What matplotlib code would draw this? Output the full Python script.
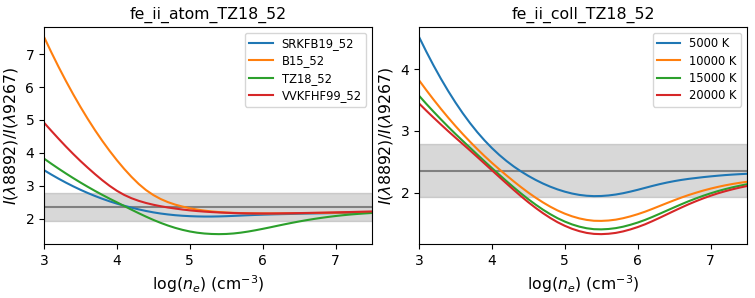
import matplotlib
matplotlib.use("Agg")
import matplotlib.pyplot as plt
from matplotlib.ticker import MultipleLocator

# density grid, log(n_e) in cm^-3 (3.0 ... 7.5 in 0.1 steps)
log_ne = [3.0, 3.1, 3.2, 3.3, 3.4, 3.5, 3.6, 3.7, 3.8, 3.9,
          4.0, 4.1, 4.2, 4.3, 4.4, 4.5, 4.6, 4.7, 4.8, 4.9,
          5.0, 5.1, 5.2, 5.3, 5.4, 5.5, 5.6, 5.7, 5.8, 5.9,
          6.0, 6.1, 6.2, 6.3, 6.4, 6.5, 6.6, 6.7, 6.8, 6.9,
          7.0, 7.1, 7.2, 7.3, 7.4, 7.5]

# left panel: atomic data sets
atom_labels = ["SRKFB19_52", "B15_52", "TZ18_52", "VVKFHF99_52"]
srkfb19 = [3.48, 3.347, 3.221, 3.102, 2.99, 2.885, 2.787, 2.696, 2.612, 2.535,
           2.465, 2.401, 2.343, 2.29, 2.242, 2.20, 2.165, 2.137, 2.114, 2.097,
           2.085, 2.077, 2.073, 2.073, 2.077, 2.084, 2.093, 2.103, 2.113, 2.122,
           2.13, 2.137, 2.143, 2.148, 2.153, 2.158, 2.163, 2.168, 2.172, 2.176,
           2.18, 2.184, 2.188, 2.192, 2.196, 2.20]
b15 = [7.52, 7.055, 6.61, 6.186, 5.782, 5.398, 5.034, 4.69, 4.367, 4.064,
       3.781, 3.518, 3.277, 3.06, 2.875, 2.725, 2.605, 2.51, 2.435, 2.375,
       2.325, 2.285, 2.253, 2.228, 2.209, 2.195, 2.185, 2.178, 2.173, 2.17,
       2.168, 2.168, 2.169, 2.171, 2.173, 2.175, 2.178, 2.181, 2.184, 2.187,
       2.19, 2.194, 2.198, 2.202, 2.206, 2.21]
tz18 = [3.83, 3.675, 3.525, 3.38, 3.24, 3.105, 2.975, 2.85, 2.73, 2.615,
        2.505, 2.393, 2.282, 2.174, 2.07, 1.972, 1.882, 1.801, 1.73, 1.67,
        1.621, 1.584, 1.559, 1.545, 1.54, 1.545, 1.56, 1.585, 1.618, 1.657,
        1.70, 1.745, 1.792, 1.838, 1.882, 1.924, 1.963, 1.999, 2.032, 2.062,
        2.089, 2.113, 2.134, 2.152, 2.168, 2.182]
vvkfhf99 = [4.92, 4.673, 4.432, 4.197, 3.972, 3.757, 3.554, 3.359, 3.174, 3.004,
            2.854, 2.729, 2.629, 2.549, 2.484, 2.431, 2.386, 2.348, 2.316, 2.286,
            2.261, 2.24, 2.223, 2.209, 2.197, 2.187, 2.179, 2.173, 2.169, 2.167,
            2.166, 2.166, 2.168, 2.171, 2.174, 2.178, 2.182, 2.186, 2.19, 2.195,
            2.20, 2.205, 2.21, 2.216, 2.222, 2.228]

# right panel: temperatures
temp_labels = ["5000 K", "10000 K", "15000 K", "20000 K"]
t5000 = [4.52, 4.282, 4.057, 3.845, 3.646, 3.46, 3.287, 3.127, 2.98, 2.846,
         2.724, 2.614, 2.515, 2.426, 2.346, 2.274, 2.209, 2.151, 2.10, 2.056,
         2.019, 1.989, 1.967, 1.953, 1.947, 1.949, 1.958, 1.973, 1.994, 2.02,
         2.049, 2.08, 2.111, 2.14, 2.166, 2.189, 2.209, 2.226, 2.24, 2.254,
         2.266, 2.277, 2.287, 2.295, 2.302, 2.308]
t10000 = [3.82, 3.66, 3.506, 3.358, 3.216, 3.08, 2.95, 2.826, 2.707, 2.593,
          2.485, 2.382, 2.282, 2.185, 2.092, 2.004, 1.922, 1.846, 1.777, 1.716,
          1.664, 1.621, 1.587, 1.563, 1.549, 1.547, 1.553, 1.567, 1.59, 1.62,
          1.655, 1.695, 1.74, 1.787, 1.834, 1.88, 1.924, 1.965, 2.002, 2.037,
          2.068, 2.096, 2.121, 2.143, 2.162, 2.179]
t15000 = [3.57, 3.438, 3.311, 3.188, 3.068, 2.952, 2.84, 2.729, 2.618, 2.508,
          2.40, 2.294, 2.19, 2.088, 1.99, 1.897, 1.81, 1.729, 1.656, 1.591,
          1.536, 1.49, 1.454, 1.428, 1.413, 1.41, 1.416, 1.43, 1.453, 1.484,
          1.52, 1.562, 1.61, 1.661, 1.713, 1.765, 1.816, 1.865, 1.91, 1.953,
          1.992, 2.028, 2.06, 2.089, 2.115, 2.139]
t20000 = [3.445, 3.328, 3.215, 3.105, 2.997, 2.892, 2.789, 2.685, 2.579, 2.472,
          2.365, 2.258, 2.152, 2.047, 1.945, 1.848, 1.757, 1.672, 1.595, 1.526,
          1.468, 1.419, 1.381, 1.353, 1.337, 1.333, 1.339, 1.353, 1.377, 1.409,
          1.447, 1.491, 1.542, 1.596, 1.652, 1.708, 1.763, 1.816, 1.865, 1.911,
          1.953, 1.992, 2.026, 2.057, 2.085, 2.11]

# observed ratio and its range
obs_ratio = 2.36
obs_low = 1.93
obs_high = 2.79

titles = ["fe_ii_atom_TZ18_52", "fe_ii_coll_TZ18_52"]
colors = ["#1f77b4", "#ff7f0e", "#2ca02c", "#d62728"]

fig = plt.figure(figsize=(7.55, 2.98), dpi=100)
ax1 = fig.add_axes([44 / 755, 1 - 244 / 298, 328 / 755, 217 / 298])
ax2 = fig.add_axes([419 / 755, 1 - 244 / 298, 328 / 755, 217 / 298])

panels = [
    (ax1, [srkfb19, b15, tz18, vvkfhf99], atom_labels),
    (ax2, [t5000, t10000, t15000, t20000], temp_labels),
]

for (ax, series, labels), title in zip(panels, titles):
    ax.axhspan(obs_low, obs_high, color="grey", alpha=0.3)
    ax.axhline(obs_ratio, color="grey", lw=1.5)
    for ys, lab, c in zip(series, labels, colors):
        ax.plot(log_ne, ys, color=c, lw=1.5, label=lab)
    ax.set_xlim(3, 7.5)
    ax.xaxis.set_major_locator(MultipleLocator(1))
    ax.yaxis.set_major_locator(MultipleLocator(1))
    ax.tick_params(labelsize=10)
    ax.set_title(title, fontsize=11.3)
    ax.set_xlabel(r"$\log(n_e)$ (cm$^{-3}$)", fontsize=11.3)
    ax.set_ylabel(r"$I(\lambda8892)/I(\lambda9267)$", fontsize=11.3)
    ax.legend(loc="upper right", fontsize=8.3, labelspacing=0.38,
              borderpad=0.38)

fig.savefig("out.png", dpi=100)
